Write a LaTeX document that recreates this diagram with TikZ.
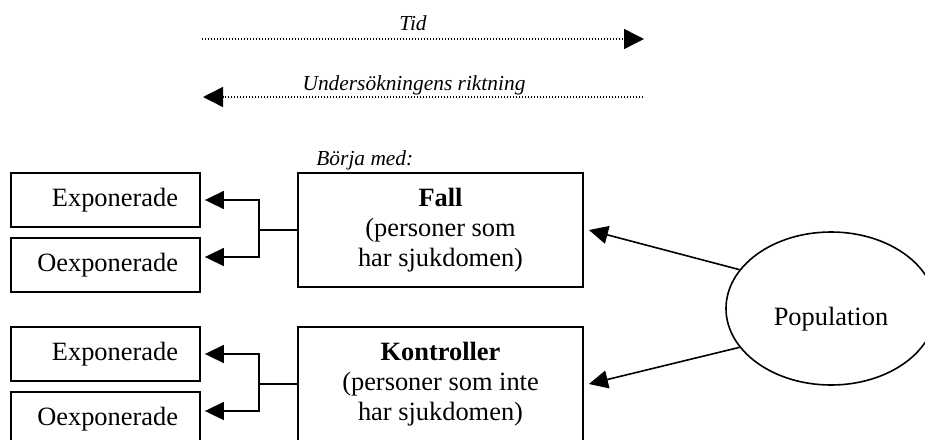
\documentclass[tikz,border=0pt]{standalone}
\usepackage{fontspec}
\setmainfont{Liberation Serif}
\usetikzlibrary{arrows.meta,shapes.geometric}

\begin{document}
\begin{tikzpicture}[x=0.5pt,y=-0.5pt,
    box/.style={draw,line width=0.9pt,inner sep=0pt,font=\fontsize{13.2}{15}\selectfont},
    expbox/.style={box,minimum width=94.5pt,minimum height=27pt,text width=72.5pt,inner xsep=11pt,align=right},
    groupbox/.style={box,minimum width=142.5pt,minimum height=57pt,align=center},
    conn/.style={line width=0.8pt},
    arr/.style={conn,-{Triangle[length=9.5pt,width=9pt]}},
    timeline/.style={line width=0.7pt,dash pattern=on 0.7pt off 0.8pt,-{Triangle[length=10pt,width=10pt]}},
    lbl/.style={font=\fontsize{10.7}{12}\selectfont\itshape,inner sep=0pt}]
            \clip (0,0) rectangle (925,439);
            \node[lbl,anchor=base] (tid) at (413,30) {Tid};
            \coordinate (tidA) at (202,39);
            \coordinate (tidB) at (644,39);
            \draw[timeline] (tidA) -- (tidB);
            \node[lbl,anchor=base] (riktning) at (414,90) {Undersökningens riktning};
            \coordinate (riktA) at (643,97);
            \coordinate (riktB) at (203,97);
            \draw[timeline] (riktA) -- (riktB);
            \node[lbl,anchor=base west] (borja) at (316,165) {Börja med:};
            \foreach \i/\y/\hd/\txt in {1/0/Fall/{personer som}, 2/154/Kontroller/{personer som inte}}
            {
            \node[groupbox] (grp\i) at (440.5,230+\y) {\textbf{\hd}\\(\txt\\har sjukdomen)};
            \node[expbox] (exp\i) at (105.5,200+\y) {Exponerade};
            \node[expbox] (oexp\i) at (105.5,265+\y) {Oexponerade};
            \draw[conn] (grp\i.west) -- ++(-38,0) coordinate (fork\i);
            \draw[arr] (fork\i) |- ([xshift=2pt]exp\i.east);
            \draw[arr] (fork\i) |- ([xshift=2pt,yshift=4pt]oexp\i.east);
            }
            \node[draw,ellipse,line width=0.8pt,minimum width=105pt,minimum height=76.5pt,inner sep=0pt] (pop) at (831,308.5) {};
            \node[font=\fontsize{13.2}{15}\selectfont,anchor=base] (poptxt) at (831,325) {Population};
            \draw[arr] (pop.157) -- ([xshift=2.5pt]grp1.east);
            \draw[arr] (pop.203) -- ([xshift=2.5pt]grp2.east);
        \end{tikzpicture}
\end{document}
